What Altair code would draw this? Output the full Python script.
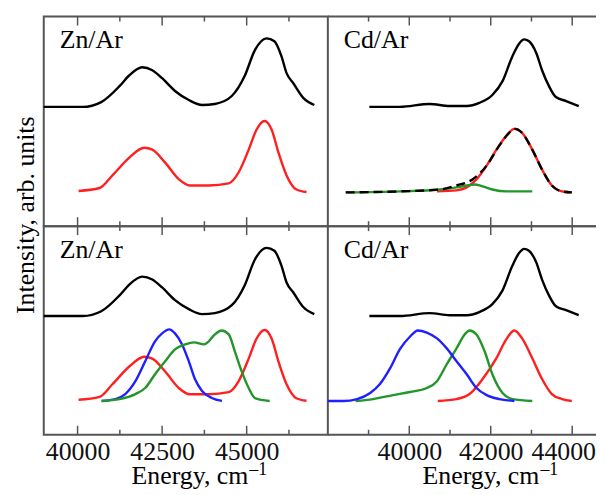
import altair as alt
import pandas as pd

FONT = "Liberation Serif"
RED = "#ff1f1f"
BLUE = "#1f1fff"
GREEN = "#22962a"
FRAME = "#555555"

# ---------------- data (energy in cm^-1, intensity in arb. units) ----------------
# Zn/Ar observed spectrum (black), same in both Zn panels
zn_obs_E = [39000, 40150, 40700, 41240, 41530, 41910, 42210, 42500, 42880, 43290, 43680,
            44060, 44560, 44940, 45240, 45590, 45820, 46030, 46180, 46380, 46680, 47000]
zn_obs_I = [56.9, 56.9, 59.2, 66.8, 72.0, 75.8, 74.4, 70.6, 64.5, 60.2, 57.8,
            58.3, 62.1, 71.6, 83.9, 89.6, 88.2, 81.0, 73.0, 68.2, 61.1, 57.8]

# Zn/Ar red component
zn_red_E = [40030, 40650, 41030, 41530, 41970, 42210, 42590, 43000, 43320, 43880,
            44470, 44760, 45060, 45290, 45530, 45740, 45940, 46180, 46470, 46770]
zn_red_I = [16.8, 18.2, 24.2, 32.7, 37.4, 36.5, 30.3, 22.3, 19.4, 19.4,
            20.4, 25.6, 36.5, 46.0, 50.2, 46.0, 35.1, 24.2, 17.5, 16.3]

# Zn/Ar blue component (lower panel)
zn_blue_E = [40710, 41120, 41410, 41710, 42000, 42290, 42500, 42710, 42880, 43090,
             43290, 43470, 43680, 43970, 44270]
zn_blue_I = [16.2, 17.1, 19.5, 25.7, 35.2, 44.8, 48.6, 50.5, 48.6, 43.3,
             35.2, 26.7, 21.0, 17.6, 16.2]

# Zn/Ar green component (lower panel)
zn_green_E = [40710, 41240, 41710, 42000, 42290, 42590, 42880, 43180, 43440, 43740,
              43880, 44060, 44260, 44470, 44650, 44850, 45060, 45240, 45440, 45680]
zn_green_I = [16.2, 17.1, 19.5, 22.4, 29.0, 35.2, 40.9, 43.3, 44.3, 43.3,
              44.8, 48.1, 50.0, 48.1, 40.0, 30.5, 22.4, 17.6, 16.7, 16.2]

# Cd/Ar observed spectrum (black), same in both Cd panels
cd_obs_E = [39020, 39770, 40500, 40990, 41410, 41720, 42040, 42290, 42530, 42700,
            42820, 42940, 43120, 43260, 43430, 43600, 43850, 44160]
cd_obs_I = [56.9, 56.9, 58.3, 57.3, 57.3, 58.8, 62.6, 69.2, 81.0, 87.2,
            89.1, 88.2, 82.5, 74.4, 66.8, 61.6, 59.7, 57.3]

# Cd/Ar upper panel: red and green components and their sum (dashed)
cd_fit_red_E = [40680, 41160, 41410, 41650, 41900, 42140, 42380, 42580, 42770, 43020,
                43260, 43500, 43750, 43990]
cd_fit_red_I = [16.6, 17.1, 18.5, 22.3, 28.9, 36.5, 43.1, 46.4, 44.5, 36.5,
                27.0, 19.4, 16.6, 16.1]
cd_fit_green_E = [38440, 39770, 40750, 41160, 41410, 41600, 41800, 42040, 42380, 43020]
cd_fit_green_I = [16.1, 16.6, 17.5, 18.5, 19.4, 19.9, 19.0, 17.5, 16.6, 16.6]
cd_sum_E = [38440, 39770, 40750, 41160, 41550, 41900, 42210, 42410, 42600, 42770,
            43020, 43260, 43500, 43750, 43990]
cd_sum_I = [16.1, 16.6, 17.5, 19.4, 22.3, 28.9, 38.4, 43.6, 46.4, 44.5,
            36.5, 27.0, 19.4, 16.6, 16.1]

# Cd/Ar lower panel components
cd_blue_E = [38000, 38380, 38720, 39040, 39280, 39530, 39770, 40020, 40210, 40430,
             40680, 40920, 41160, 41410, 41650, 41900, 42210, 42580]
cd_blue_I = [16.2, 16.2, 17.1, 20.0, 24.3, 31.9, 41.0, 47.1, 50.0, 49.0,
             46.2, 41.4, 35.2, 29.0, 22.4, 19.0, 17.1, 16.2]
cd_green_E = [38680, 39110, 39600, 40020, 40430, 40680, 40920, 41160, 41360, 41480,
              41650, 41850, 42040, 42290, 42530, 43020]
cd_green_I = [16.2, 17.1, 19.0, 20.5, 22.4, 25.7, 33.8, 41.4, 48.1, 50.0,
              48.1, 40.0, 29.0, 20.0, 17.1, 16.2]
cd_red_E = [40700, 41160, 41480, 41800, 42140, 42380, 42580, 42770, 43020, 43260,
            43500, 43750, 43990]
cd_red_I = [16.2, 17.1, 19.5, 26.7, 36.7, 45.7, 50.0, 46.2, 36.7, 26.7,
            19.5, 17.1, 16.2]

# axis ticks and domains
zn_domain = [39000, 47400]
cd_domain = [38000, 44585]
zn_major = [40000, 42500, 45000]
zn_minor = [41250, 43750, 46250]
cd_major = [40000, 42000, 44000]
cd_minor = [39000, 41000, 43000]

W_ZN, W_CD = 286, 270
H_TOP, H_BOT = 211, 210


def xenc(domain, axis):
    return alt.X("E:Q", scale=alt.Scale(domain=domain, nice=False, zero=False), axis=axis)


def yenc():
    return alt.Y("I:Q", scale=alt.Scale(domain=[0, 100], nice=False, zero=False), axis=None)


def curve(E, I, color, domain, axis, dash=None, width=2.4):
    kw = dict(color=color, strokeWidth=width, interpolate="monotone")
    if dash:
        kw["strokeDash"] = dash
    df = pd.DataFrame({"E": E, "I": I})
    return alt.Chart(df).mark_line(**kw).encode(x=xenc(domain, axis), y=yenc())


def tick_rules(vals, length, h, domain, axis):
    df = pd.DataFrame({"E": vals})
    top = alt.Chart(df).mark_rule(color=FRAME, strokeWidth=1.5).encode(
        x=xenc(domain, axis), y=alt.value(0), y2=alt.value(length))
    bot = alt.Chart(df).mark_rule(color=FRAME, strokeWidth=1.5).encode(
        x=xenc(domain, axis), y=alt.value(h), y2=alt.value(h - length))
    return [top, bot]


def frame_hlines(w, h):
    base = alt.Chart(pd.DataFrame({"k": [0]})).mark_rule(color=FRAME, strokeWidth=2)
    return [base.encode(x=alt.value(0), x2=alt.value(w), y=alt.value(0)),
            base.encode(x=alt.value(0), x2=alt.value(w), y=alt.value(h))]


def label(text, x, y, size=26, align="left"):
    return alt.Chart(pd.DataFrame({"t": [text]})).mark_text(
        font=FONT, fontSize=size, align=align, baseline="alphabetic", color="black"
    ).encode(x=alt.value(x), y=alt.value(y), text="t:N")


def bottom_axis(values, last_shift=0):
    return alt.Axis(values=values, format="d", labelFont=FONT, labelFontSize=26,
                    labelColor="#111111", ticks=False, domain=False, grid=False,
                    labelPadding=4, labelFlush=False, labelOverlap=False, title=None,
                    labelOffset={"condition": {"test": f"datum.value == {values[-1]}",
                                               "value": last_shift}, "value": 0})


def panel(curves, domain, major, minor, h, w, name, axis, extra=(), open_right=False):
    layers = []
    for c in curves:
        dash = c[3] if len(c) == 4 else None
        layers.append(curve(c[0], c[1], c[2], domain, axis, dash=dash))
    layers += tick_rules(major, 9, h, domain, axis)
    layers += tick_rules(minor, 5, h, domain, axis)
    if open_right:
        layers += frame_hlines(w, h)
    layers.append(label(name, 16, 32))
    layers += list(extra)
    ch = alt.layer(*layers).properties(width=w, height=h)
    if open_right:
        ch = ch.properties(view=alt.ViewBackground(stroke="transparent"))
    return ch


ytitle = alt.Chart(pd.DataFrame({"t": ["Intensity, arb. units"]})).mark_text(
    font=FONT, fontSize=26, angle=270, align="center", baseline="alphabetic", color="black"
).encode(x=alt.value(-10), y=alt.value(200), text="t:N")

tl = panel([(zn_obs_E, zn_obs_I, "black"), (zn_red_E, zn_red_I, RED)],
           zn_domain, zn_major, zn_minor, H_TOP, W_ZN, "Zn/Ar", None, extra=[ytitle])

tr = panel([(cd_fit_red_E, cd_fit_red_I, RED),
            (cd_fit_green_E, cd_fit_green_I, GREEN),
            (cd_obs_E, cd_obs_I, "black"),
            (cd_sum_E, cd_sum_I, "black", [9, 5])],
           cd_domain, cd_major, cd_minor, H_TOP, W_CD, "Cd/Ar", None, open_right=True)

bl = panel([(zn_obs_E, zn_obs_I, "black"), (zn_red_E, zn_red_I, RED),
            (zn_blue_E, zn_blue_I, BLUE), (zn_green_E, zn_green_I, GREEN)],
           zn_domain, zn_major, zn_minor, H_BOT, W_ZN, "Zn/Ar", bottom_axis(zn_major),
           extra=[label("Energy, cm", 206, H_BOT + 50, size=26, align="right"),
                  label("\u20131", 207, H_BOT + 41, size=18)])

br = panel([(cd_obs_E, cd_obs_I, "black"), (cd_red_E, cd_red_I, RED),
            (cd_green_E, cd_green_I, GREEN), (cd_blue_E, cd_blue_I, BLUE)],
           cd_domain, cd_major, cd_minor, H_BOT, W_CD, "Cd/Ar", bottom_axis(cd_major, -9),
           extra=[label("Energy, cm", 213, H_BOT + 50, size=26, align="right"),
                  label("\u20131", 214, H_BOT + 41, size=18)],
           open_right=True)

chart = alt.concat(tl, tr, bl, br, columns=2, spacing=0, bounds="flush", align="each").resolve_scale(
    x="independent", y="independent"
).properties(
    padding={"left": 3, "top": 5, "right": 0, "bottom": -2}
).configure_view(stroke=FRAME, strokeWidth=2)

chart.save("out.html", embed_options={"renderer": "svg", "actions": False})
